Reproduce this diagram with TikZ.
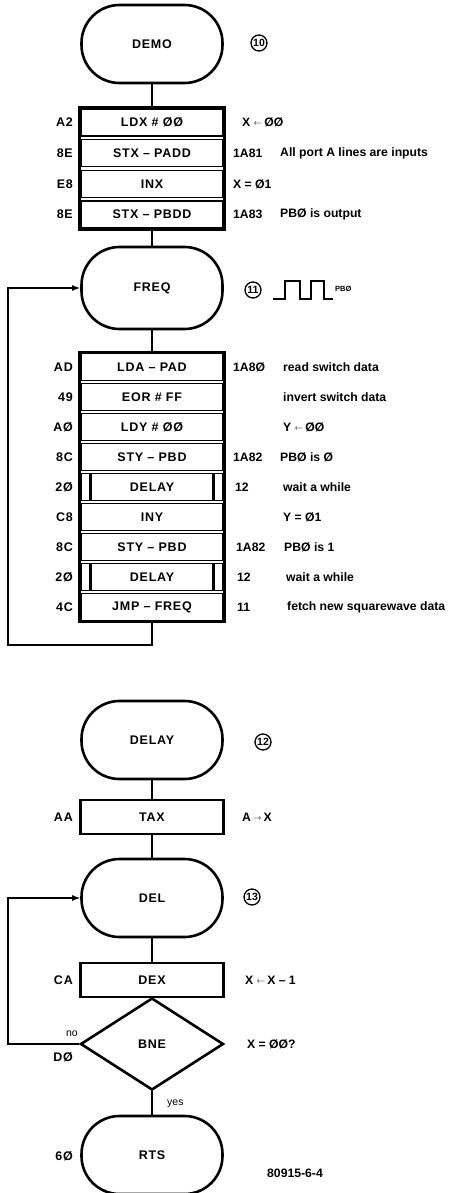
\documentclass[tikz,border=0pt]{standalone}
\usepackage{fontspec}
\setmainfont{Liberation Sans}
\usetikzlibrary{shapes.geometric,arrows.meta}
\newcommand\myla{\raisebox{1pt}{\fontsize{8}{8}\selectfont$\leftarrow$}}
\newcommand\myra{\raisebox{1pt}{\fontsize{8}{8}\selectfont$\rightarrow$}}
\begin{document}
\begin{tikzpicture}[x=1pt,y=-1pt,
  every node/.style={font=\fontsize{12.5}{14}\selectfont\bfseries\addfontfeature{LetterSpace=6}},
  term/.style={draw,line width=2.6pt,rounded corners=38pt,minimum width=141pt,minimum height=78pt,inner sep=0pt},
  row/.style={draw,line width=1.5pt,minimum width=141pt,minimum height=27pt,inner sep=0pt},
  outer/.style={line width=2.6pt},
  grp/.style={draw,line width=2.6pt,minimum width=145pt,inner sep=0pt},
  op/.style={anchor=east,inner sep=0pt},
  cmt/.style={anchor=west,inner sep=0pt,font=\fontsize{12.2}{14}\selectfont\bfseries},
  conn/.style={line width=1.3pt},
  arr/.style={conn,-{Latex[length=8pt,width=6pt]}},
  num/.style={draw,circle,line width=1.3pt,minimum size=16pt,inner sep=0pt,font=\fontsize{10.5}{10.5}\selectfont\bfseries},
  sub/.style={line width=2.6pt},
  ]
\useasboundingbox (0,0) rectangle (450,1193);
\fill[white] (0,0) rectangle (450,1193);

% ---------- DEMO ----------
\node[term] (demo) at (152,44) {DEMO};
\node[num] (n10) at (259,43) {10};

\node[grp,minimum height=123pt] (g1) at (152,168.5) {};
\node[row] (r1) at (152,122.4) {LDX \# ØØ};
\node[row] (r2) at (152,153.1) {STX – PADD};
\node[row] (r3) at (152,183.9) {INX};
\node[row] (r4) at (152,214.6) {STX – PBDD};
\node[op] (o1) at (73,122.4) {A2};
\node[op] (o2) at (73,153.1) {8E};
\node[op] (o3) at (73,183.9) {E8};
\node[op] (o4) at (73,214.6) {8E};
\node[cmt] (c1) at (242,122.4) {X \myla\,ØØ};
\node[cmt] (a2) at (233,153.1) {1A81};
\node[cmt] (c2) at (280,153.1) {All port A lines are inputs};
\node[cmt] (c3) at (233,183.9) {X = Ø1};
\node[cmt] (a4) at (233,214.6) {1A83};
\node[cmt] (c4) at (280,214.6) {PBØ is output};
\draw[conn] (demo.south) -- (g1.north);

% ---------- FREQ ----------
\node[term,minimum height=82pt] (freq) at (152,288) {FREQ};
\node[num] (n11) at (253,290) {11};
\draw[line width=1.2pt] (273,299) -- (285,299) -- (285,281) -- (300,281) -- (300,299) -- (311,299) -- (311,281) -- (324,281) -- (324,299) -- (333,299);
\node[cmt,font=\fontsize{7.5}{8}\selectfont\bfseries] (pb) at (335,289) {PBØ};
\draw[conn] (g1.south) -- (freq.north);

\node[grp,minimum height=270pt] (g2) at (152,487) {};
\node[row] (s1) at (152,367) {LDA – PAD};
\node[row] (s2) at (152,397) {EOR \# FF};
\node[row] (s3) at (152,427) {LDY \# ØØ};
\node[row] (s4) at (152,457) {STY – PBD};
\node[row] (s5) at (152,487) {DELAY};
\node[row] (s6) at (152,517) {INY};
\node[row] (s7) at (152,547) {STY – PBD};
\node[row] (s8) at (152,577) {DELAY};
\node[row] (s9) at (152,607) {JMP – FREQ};
\foreach \r in {s5,s8}{
  \draw[sub] ([xshift=10pt]\r.north west) -- ([xshift=10pt]\r.south west);
  \draw[sub] ([xshift=-10pt]\r.north east) -- ([xshift=-10pt]\r.south east);
}
\node[op] at (73,367) {AD};
\node[op] at (73,397) {49};
\node[op] at (73,427) {AØ};
\node[op] at (73,457) {8C};
\node[op] at (73,487) {2Ø};
\node[op] at (73,517) {C8};
\node[op] at (73,547) {8C};
\node[op] at (73,577) {2Ø};
\node[op] at (73,607) {4C};
\node[cmt] at (233,367) {1A8Ø};
\node[cmt] at (283,367) {read switch data};
\node[cmt] at (283,397) {invert switch data};
\node[cmt] at (283,427) {Y \myla\,ØØ};
\node[cmt] at (233,457) {1A82};
\node[cmt] at (280,457) {PBØ is Ø};
\node[cmt] at (235,487) {12};
\node[cmt] at (283,487) {wait a while};
\node[cmt] at (283,517) {Y = Ø1};
\node[cmt] at (236,547) {1A82};
\node[cmt] at (284,547) {PBØ is 1};
\node[cmt] at (237,577) {12};
\node[cmt] at (286,577) {wait a while};
\node[cmt] at (237,607) {11};
\node[cmt] at (287,607) {fetch new squarewave data};
\draw[conn] (freq.south) -- (g2.north);
\coordinate (l1) at (8,645);
\draw[arr] (g2.south) |- (l1) |- (freq.west);

% ---------- DELAY subroutine ----------
\node[term] (delay) at (152,740) {DELAY};
\node[num] (n12) at (263,742) {12};
\node[draw,outer,minimum width=143pt,minimum height=34pt,inner sep=0pt] (tax) at (152,817) {TAX};
\node[op] at (73,817) {AA};
\node[cmt] at (242,817) {A\,\myra\,X};
\draw[conn] (delay.south) -- (tax.north);

\node[term] (del) at (152,898) {DEL};
\node[num] (n13) at (252,897) {13};
\draw[conn] (tax.south) -- (del.north);

\node[draw,outer,minimum width=143pt,minimum height=34pt,inner sep=0pt] (dex) at (152,980) {DEX};
\node[op] at (73,980) {CA};
\node[cmt] at (245,980) {X \myla\,X – 1};
\draw[conn] (del.south) -- (dex.north);

\node[diamond,draw,line width=2.6pt,minimum width=143pt,minimum height=92pt,inner sep=0pt,aspect=1.55] (bne) at (152,1044) {BNE};
\node[cmt] at (247,1044) {X = ØØ?};
\node[op,font=\fontsize{10.5}{12}\selectfont] at (78,1034) {no};
\node[op] at (73,1057) {DØ};
\coordinate (l2) at (8,1044);
\draw[arr] (bne.west) -- (l2) |- (del.west);

\node[term] (rts) at (152,1155) {RTS};
\node[op] at (73,1156) {6Ø};
\node[cmt,font=\fontsize{10.5}{12}\selectfont] at (167,1104) {yes};
\draw[conn] (bne.south) -- (rts.north);
\node[cmt] at (267,1173) {80915-6-4};
\end{tikzpicture}
\end{document}
